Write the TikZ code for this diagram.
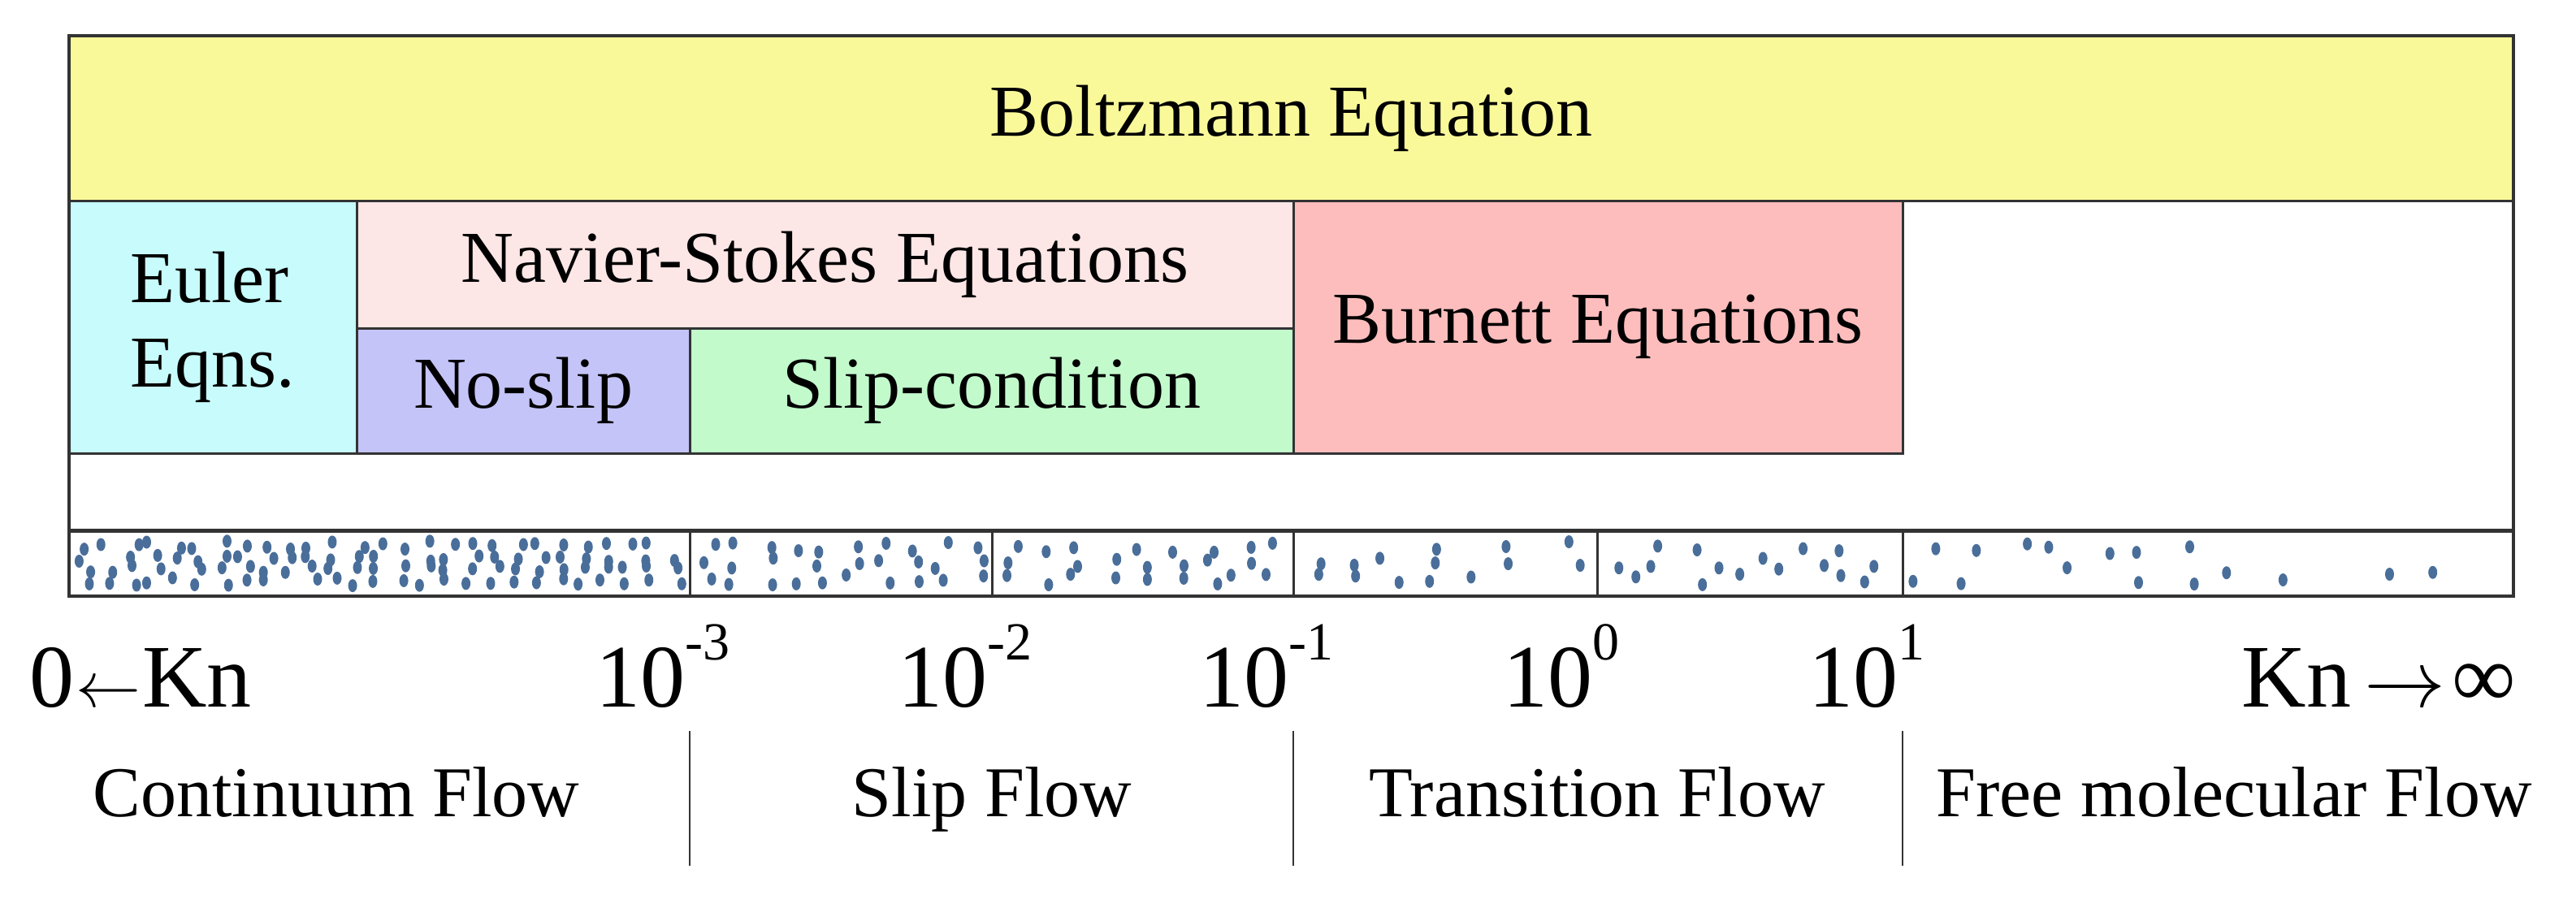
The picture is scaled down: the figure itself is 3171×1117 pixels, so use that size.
\documentclass[tikz,border=0pt]{standalone}
\usepackage{fontspec}
\usepackage{graphicx}
\setmainfont{Liberation Serif}
\definecolor{cYellow}{HTML}{FAF99A}
\definecolor{cEuler}{HTML}{C8FCFC}
\definecolor{cNS}{HTML}{FDE6E6}
\definecolor{cNoSlip}{HTML}{C4C4F8}
\definecolor{cSlip}{HTML}{C2FACC}
\definecolor{cBurnett}{HTML}{FDBDBD}
\definecolor{cDot}{HTML}{4A6E9A}
\definecolor{cLine}{HTML}{333333}
\newcommand{\dotseg}[5]{%
  \pgfmathsetmacro{\segdx}{(#2-#1)/#3}%
  \pgfmathsetmacro{\segdy}{60/#4}%
  \foreach \i in {1,...,#3}{%
    \foreach \j in {1,...,#4}{%
      \pgfmathsetmacro{\keep}{rnd}%
      \ifdim\keep pt<#5pt
        \pgfmathsetmacro{\px}{#1+(\i-0.5)*\segdx+0.7*(rnd-0.5)*\segdx}%
        \pgfmathsetmacro{\py}{664+(\j-0.5)*\segdy+0.7*(rnd-0.5)*\segdy}%
        \fill[cDot] (\px,\py) ellipse (5.5pt and 8pt);%
      \fi
    }%
  }%
}
\newcommand{\bigleft}{\resizebox{80pt}{!}{$\leftarrow$}}
\newcommand{\bigright}{\resizebox{100pt}{!}{$\rightarrow$}}
\tikzset{
  box/.style={draw=cLine, line width=3pt, inner sep=0pt, align=center,
    font=\fontsize{90}{104}\selectfont},
  bigl/.style={inner sep=0pt, font=\fontsize{110}{120}\selectfont},
  flowl/.style={inner sep=0pt, font=\fontsize{88}{100}\selectfont},
  sep/.style={draw=cLine, line width=3pt},
}
\begin{document}
\begin{tikzpicture}[x=1pt,y=-1pt]
\useasboundingbox (0,0) rectangle (3171,1117);
% main boxes
\node[box, fill=cYellow, minimum width=3009pt, minimum height=203pt] (boltz) at (1589.5,145.5) {Boltzmann Equation};
\node[box, fill=cEuler, minimum width=354pt, minimum height=311pt, align=left] (euler) at (262,402.5) {Euler\\Eqns.};
\node[box, fill=cNS, minimum width=1153pt, minimum height=157pt] (ns) at (1015.5,325.5) {Navier-Stokes Equations};
\node[box, fill=cNoSlip, minimum width=410pt, minimum height=154pt] (noslip) at (644,481) {No-slip};
\node[box, fill=cSlip, minimum width=743pt, minimum height=154pt] (slip) at (1220.5,481) {Slip-condition};
\node[box, fill=cBurnett, minimum width=750pt, minimum height=311pt] (burnett) at (1967,402.5) {Burnett Equations};
% outer frame and strip
\draw[cLine, line width=4pt] (85,44) rectangle (3094,734);
\draw[cLine, line width=5pt] (85,653) -- (3094,653);
\foreach \xx in {849,1221,1592,1966,2342}{\draw[sep] (\xx,653) -- (\xx,734);}
% dots
\pgfmathsetseed{23}
\dotseg{92}{845}{27}{4}{0.97}
\dotseg{853}{1217}{10}{3}{0.95}
\dotseg{1225}{1588}{9}{3}{0.9}
\dotseg{1596}{1962}{8}{3}{0.8}
\dotseg{1970}{2338}{7}{3}{0.75}
\dotseg{2346}{3090}{14}{2}{0.65}
% axis labels
\node[bigl, anchor=base west] (kn0) at (36,870) {0\kern2pt\bigleft\kern2pt Kn};
\node[bigl, anchor=base east] (e3) at (844,870) {10\rlap{\raisebox{0.52em}{\fontsize{66}{70}\selectfont -3}}};
\node[bigl, anchor=base east] (e2) at (1216,870) {10\rlap{\raisebox{0.52em}{\fontsize{66}{70}\selectfont -2}}};
\node[bigl, anchor=base east] (e1) at (1587,870) {10\rlap{\raisebox{0.52em}{\fontsize{66}{70}\selectfont -1}}};
\node[bigl, anchor=base east] (e0) at (1961,870) {10\rlap{\raisebox{0.52em}{\fontsize{66}{70}\selectfont 0}}};
\node[bigl, anchor=base east] (ep1) at (2337,870) {10\rlap{\raisebox{0.52em}{\fontsize{66}{70}\selectfont 1}}};
\node[bigl, anchor=base east] (kninf) at (3097,870) {Kn\kern16pt\bigright\kern8pt∞};
% flow regimes
\node[flowl, anchor=base] (cont) at (414,1005) {Continuum Flow};
\node[flowl, anchor=base] (slipf) at (1221,1005) {Slip Flow};
\node[flowl, anchor=base] (trans) at (1966,1005) {Transition Flow};
\node[flowl, anchor=base] (free) at (2750,1005) {Free molecular Flow};
\coordinate (s1a) at (849,900); \coordinate (s1b) at (849,1066);
\coordinate (s2a) at (1592,900); \coordinate (s2b) at (1592,1066);
\coordinate (s3a) at (2342,900); \coordinate (s3b) at (2342,1066);
\draw[cLine, line width=2.5pt] (s1a) -- (s1b);
\draw[cLine, line width=2.5pt] (s2a) -- (s2b);
\draw[cLine, line width=2.5pt] (s3a) -- (s3b);
\end{tikzpicture}
\end{document}
